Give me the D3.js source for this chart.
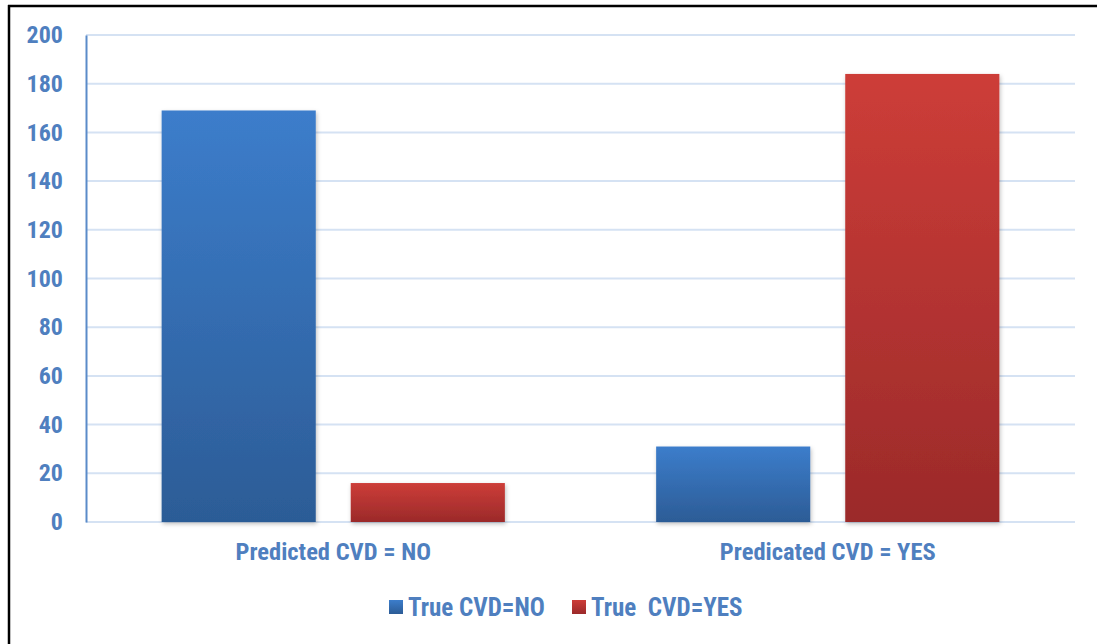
<!DOCTYPE html>
<html>
<head>
<meta charset="utf-8">
<script src="https://cdn.jsdelivr.net/npm/d3@7"></script>
<style>
  html, body { margin: 0; padding: 0; background: #fff; }
  svg { display: block; }
  .lbl { font-family: "Liberation Sans Narrow", "Roboto Condensed", "DejaVu Sans Condensed", sans-serif; font-weight: bold; fill: #4f7fbf; }
</style>
</head>
<body>
<div id="container"></div>
<script>
var categories = ["Predicted CVD = NO", "Predicated CVD = YES"];
var seriesNames = ["True CVD=NO", "True  CVD=YES"];
var trueNo = [169, 31];
var trueYes = [16, 184];
var yTicks = [0, 20, 40, 60, 80, 100, 120, 140, 160, 180, 200];

var width = 1097, height = 644;
var margin = { left: 86, right: 22, top: 35, bottom: 122 };

var svg = d3.select("#container").append("svg")
    .attr("width", width)
    .attr("height", height);

var defs = svg.append("defs");

function gradient(id, top, bottom) {
    var g = defs.append("linearGradient")
        .attr("id", id)
        .attr("x1", 0).attr("y1", 0).attr("x2", 0).attr("y2", 1);
    g.append("stop").attr("offset", "0%").attr("stop-color", top);
    g.append("stop").attr("offset", "100%").attr("stop-color", bottom);
}
gradient("gBlue", "#3c7dcb", "#2c5c96");
gradient("gRed", "#cd3d38", "#9b2a2a");

var shadow = defs.append("filter").attr("id", "shadow")
    .attr("x", "-10%").attr("y", "-10%").attr("width", "130%").attr("height", "130%");
shadow.append("feDropShadow")
    .attr("dx", 1).attr("dy", 2).attr("stdDeviation", 2)
    .attr("flood-color", "#000").attr("flood-opacity", 0.25);

var colors = ["url(#gBlue)", "url(#gRed)"];
var swatch = ["gBlue", "gRed"];

// frame lines on top and left
svg.append("line").attr("x1", 8).attr("x2", width).attr("y1", 6).attr("y2", 6)
    .attr("stroke", "#000").attr("stroke-width", 2.5);
svg.append("line").attr("x1", 9).attr("x2", 9).attr("y1", 5).attr("y2", height)
    .attr("stroke", "#000").attr("stroke-width", 2.5);

var y = d3.scaleLinear()
    .domain([0, 200])
    .range([height - margin.bottom, margin.top]);

var x0 = d3.scaleBand()
    .domain(categories)
    .range([margin.left, width - margin.right])
    .padding(0);

var x1 = d3.scaleBand()
    .domain(seriesNames)
    .range([0, x0.bandwidth()])
    .paddingInner(0.185)
    .paddingOuter(0.4);

// gridlines
svg.append("g").selectAll("line")
    .data(yTicks)
    .enter().append("line")
    .attr("x1", margin.left)
    .attr("x2", width - margin.right)
    .attr("y1", function(d) { return y(d); })
    .attr("y2", function(d) { return y(d); })
    .attr("stroke", "#d5e2f3")
    .attr("stroke-width", 2);

// y axis
var yAxis = svg.append("g")
    .attr("transform", "translate(" + margin.left + ",0)")
    .call(d3.axisLeft(y).tickValues(yTicks).tickSize(0).tickPadding(23));
yAxis.select(".domain").attr("stroke", "#5b8bc9").attr("stroke-width", 2);
yAxis.selectAll("text")
    .attr("class", "lbl")
    .style("font-size", "24px");

// bars
var rows = categories.map(function(c, i) {
    return { cat: c, vals: [trueNo[i], trueYes[i]] };
});

var group = svg.append("g").selectAll("g")
    .data(rows)
    .enter().append("g")
    .attr("transform", function(d) { return "translate(" + x0(d.cat) + ",0)"; });

group.selectAll("rect")
    .data(function(d) { return d.vals.map(function(v, j) { return { s: seriesNames[j], v: v, j: j }; }); })
    .enter().append("rect")
    .attr("x", function(d) { return x1(d.s); })
    .attr("y", function(d) { return y(d.v); })
    .attr("width", x1.bandwidth())
    .attr("height", function(d) { return y(0) - y(d.v); })
    .attr("fill", function(d) { return colors[d.j]; })
    .attr("filter", "url(#shadow)");

// category labels
var xAxis = svg.append("g")
    .attr("transform", "translate(0," + y(0) + ")")
    .call(d3.axisBottom(x0).tickSize(0).tickPadding(21));
xAxis.select(".domain").remove();
xAxis.selectAll("text")
    .attr("class", "lbl")
    .style("font-size", "24.5px");

// legend
var legendX = [389, 572];
var legend = svg.append("g").selectAll("g")
    .data(seriesNames)
    .enter().append("g")
    .attr("transform", function(d, i) { return "translate(" + legendX[i] + ",600)"; });
legend.append("rect")
    .attr("width", 14).attr("height", 14)
    .attr("fill", function(d, i) { return "url(#" + swatch[i] + ")"; });
legend.append("text")
    .attr("class", "lbl")
    .attr("x", 19)
    .attr("y", 7)
    .attr("dy", "0.35em")
    .style("font-size", "25px")
    .style("white-space", "pre")
    .attr("xml:space", "preserve")
    .text(function(d) { return d; });
</script>
</body>
</html>
